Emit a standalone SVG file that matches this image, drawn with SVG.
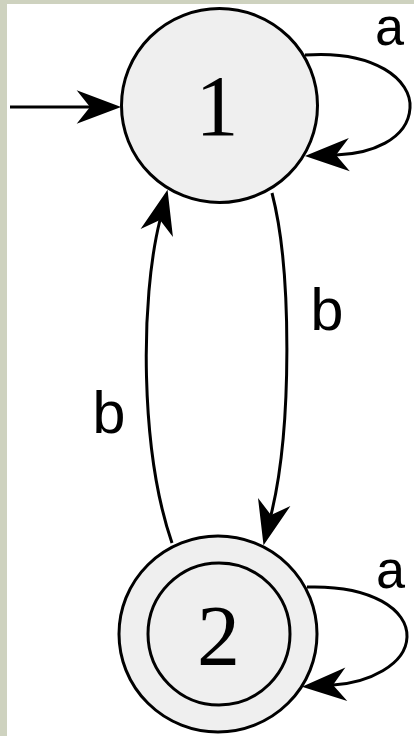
<svg xmlns="http://www.w3.org/2000/svg" width="414" height="736" viewBox="0 0 414 736">
<style>
.node{fill:#efefef;stroke:#000;stroke-width:3}
.ring{fill:none;stroke:#000;stroke-width:3}
.edge{fill:none;stroke:#000;stroke-width:3}
.num{font-family:"Liberation Serif",serif;font-size:86px;text-anchor:middle;fill:#000}
.lbl{font-family:"Liberation Mono","DejaVu Sans Mono",monospace;font-size:60px;text-anchor:middle;fill:#000}
.lbla{font-size:53px}
</style>
<defs>
<marker id="ah" markerUnits="userSpaceOnUse" markerWidth="60" markerHeight="40" viewBox="-15 -18 50 36" refX="0" refY="0" orient="auto" overflow="visible">
<path d="M28,0 L-12,-15 L0,0 L-12,15 Z" fill="#000"/>
</marker>
</defs>
<rect x="0" y="0" width="414" height="736" fill="#ced2bf"/>
<rect x="7" y="4" width="407" height="732" fill="#ffffff"/>
<g id="edges">
<path class="edge" d="M10,107 L90,107" marker-end="url(#ah)"/>
<path class="edge" d="M305,55 C375,50 412,80 410,108 C408,140 370,154 336,155" marker-end="url(#ah)"/>
<path class="edge" d="M272,193 C292,270 292,430 271,515" marker-end="url(#ah)"/>
<path class="edge" d="M172,543 C140,450 140,300 160,220" marker-end="url(#ah)"/>
<path class="edge" d="M307,587 C372,585 408,610 407,637 C406,665 368,683 333,685" marker-end="url(#ah)"/>
<text class="lbl lbla" x="390" y="45">a</text>
<text class="lbl" x="327" y="330">b</text>
<text class="lbl" x="109" y="433">b</text>
<text class="lbl lbla" x="391" y="588">a</text>
</g>
<g id="node1">
<ellipse class="node" cx="219.5" cy="105.5" rx="98" ry="97"/>
<text class="num" x="217" y="135">1</text>
</g>
<g id="node2">
<ellipse class="node" cx="218" cy="634" rx="99" ry="98"/>
<circle class="ring" cx="219" cy="634" r="71"/>
<text class="num" x="218.5" y="665">2</text>
</g>
</svg>
